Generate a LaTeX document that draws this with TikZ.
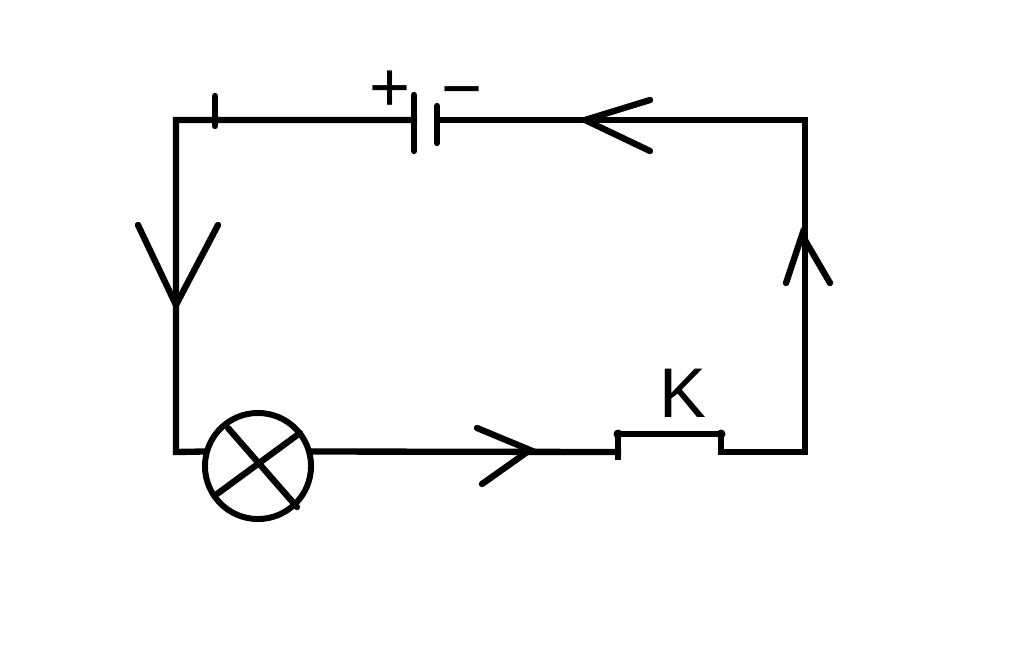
\documentclass[tikz,border=0pt]{standalone}
\usepackage{fontspec}
\setmainfont{Liberation Sans}
\tikzset{
    wire/.style={line width=1.8pt, line cap=round},
    corner/.style={wire, line cap=rect},
    sign/.style={inner sep=0pt, font=\fontsize{20}{20}\selectfont}
}
\begin{document}
\begin{tikzpicture}[x=0.01cm, y=-0.01cm]
    \useasboundingbox (0, 0) rectangle (1024, 651);
    \coordinate (topleft) at (176, 120);
    \coordinate (topright) at (805, 120);
    \coordinate (botleft) at (176, 452);
    \coordinate (botright) at (805, 452);
    \coordinate (platea) at (414, 120);
    \coordinate (plateb) at (437, 120);
    \coordinate (keya) at (618, 434);
    \coordinate (keyb) at (721, 434);
    \coordinate (keyafoot) at (618, 452);
    \coordinate (keybfoot) at (721, 452);
    \node[draw, circle, inner sep=0pt, minimum size=1.06cm, line width=1.7pt] (lamp) at (258, 466) {};

    % wires
    \draw[corner] (platea) -- (topleft) -- (botleft) -- (lamp.165);
    \draw[corner] (plateb) -- (topright) -- (botright) -- (keybfoot) -- (keyb) -- (keya);
    \draw[corner] (lamp.15) -- (keyafoot);
    \draw[corner] (keya) -- (618, 457);
    \draw[wire] (215, 96) -- (215, 126);

    % battery
    \draw[wire] (414, 95) -- (414, 151);
    \draw[wire] (437, 106) -- (437, 143);
    \node[sign] (plus) at (390, 91) {+};
    \node[sign] (minus) at (462, 100) {\char"2212};

    % lamp cross
    \draw[wire] (228, 428) -- (297, 507);
    \draw[wire] (217, 494) -- (300, 433);

    % key
    \fill (keya) circle (4.5);
    \fill (keyb) circle (4.5);
    \node[sign] (keylabel) at (683, 393) {K};

    % direction marks
    \foreach \tx/\ty/\ax/\ay/\bx/\by in {585/120/650/100/650/151, 176/305/138/225/218/225, 802/235/786/283/830/283, 530/450/477/428/482/484} {
        \draw[wire] (\ax, \ay) -- (\tx, \ty) -- (\bx, \by);
    }
\end{tikzpicture}
\end{document}
